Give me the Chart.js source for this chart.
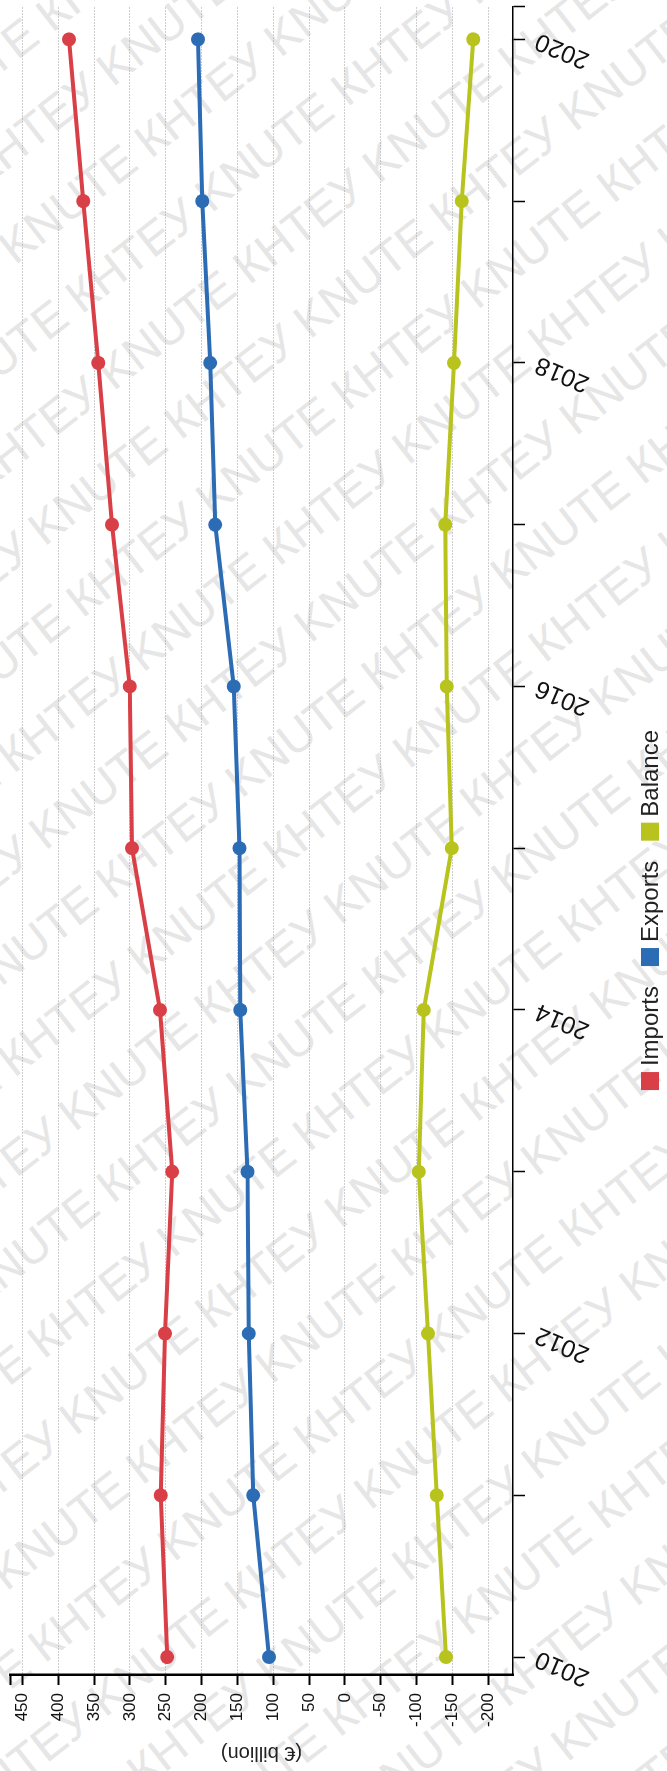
<!DOCTYPE html>
<html>
<head>
<meta charset="utf-8">
<title>Imports, exports and trade balance, 2010–2020</title>
<script src="https://cdn.jsdelivr.net/npm/chart.js@4.4.1/dist/chart.umd.min.js"></script>
<style>
  html, body { margin: 0; padding: 0; background: #fff; width: 667px; height: 1771px; overflow: hidden; }
  #stage { position: absolute; left: 0; top: 0; width: 667px; height: 1771px; overflow: hidden; background: #fff; }
  #mark {
    position: absolute; left: -967px; top: -415px; width: 2600px; height: 2600px;
    transform: rotate(-38deg); transform-origin: 50% 50%;
    font: 47px "Liberation Sans", Arial, sans-serif; color: #e6e6e6;
    line-height: 80px; white-space: nowrap; user-select: none; z-index: 0;
  }
  /* the chart is laid out landscape, then turned a quarter turn counter-clockwise */
  #frame {
    position: absolute; left: 0; top: 0; width: 1771px; height: 667px;
    transform-origin: 0 0; transform: translate(0, 1771px) rotate(-90deg); z-index: 1;
  }
  #chart { display: block; }
</style>
</head>
<body>
<div id="stage">
  <div id="mark"></div>
  <div id="frame"><canvas id="chart" width="1771" height="667"></canvas></div>
</div>
<script>
// Values in € billion
const years = [2010, 2011, 2012, 2013, 2014, 2015, 2016, 2017, 2018, 2019, 2020];
const imports = [248, 257, 251, 241, 258, 297, 300, 325, 344, 365, 385];
const exportsEur = [106, 128, 134, 136, 146, 147, 155, 181, 188, 199, 205];
const balance = [-141, -128, -116, -103, -110, -149, -142, -140, -152, -163, -179];

const seriesNames = ['Imports', 'Exports', 'Balance'];
const seriesColors = ['#d93f46', '#2b6cb5', '#b8c31d'];
const yearTickLabels = ['2010', '2012', '2014', '2016', '2018', '2020'];
const valueTicks = [450, 400, 350, 300, 250, 200, 150, 100, 50, 0, -50, -100, -150, -200];
const axisTitle = '(€ billion)';
const watermarkText = 'КНТЕУ KNUTE ';

// background watermark
(function () {
  const mark = document.getElementById('mark');
  for (let r = 0; r < 36; r++) {
    const row = document.createElement('div');
    row.style.marginLeft = (r % 2 ? -80 : -230) + 'px';
    row.textContent = watermarkText.repeat(12);
    mark.appendChild(row);
  }
})();

const FONT = '"Liberation Sans", Arial, Helvetica, sans-serif';
Chart.defaults.font.family = FONT;
Chart.defaults.color = '#111';

const X_MIN = 2009.889, X_MAX = 2020.2;
const Y_MIN = -234.45, Y_MAX = 467.2;

const allSeries = [imports, exportsEur, balance];
const datasets = allSeries.map((vals, i) => ({
  label: seriesNames[i],
  data: years.map((yr, j) => ({ x: yr, y: vals[j] })),
  borderColor: seriesColors[i],
  backgroundColor: seriesColors[i],
  borderWidth: 4,
  pointRadius: 7,
  pointHoverRadius: 7,
  pointBorderWidth: 0,
  tension: 0,
  fill: false
}));

// legend: coloured square + name, centred row below the axis
const swatchLegend = {
  id: 'swatchLegend',
  afterDraw(chart, args, opts) {
    const ctx = chart.ctx;
    ctx.save();
    ctx.font = opts.fontSize + 'px ' + FONT;
    ctx.textBaseline = 'middle';
    const items = chart.data.datasets.map(d => ({
      text: d.label, color: d.borderColor, w: ctx.measureText(d.label).width
    }));
    const total = items.reduce((s, it) => s + opts.box + opts.gap + it.w, 0) + opts.spacing * (items.length - 1);
    let x = opts.centerX - total / 2;
    items.forEach(it => {
      ctx.fillStyle = it.color;
      ctx.fillRect(x, opts.y - opts.box / 2, opts.box, opts.box);
      ctx.fillStyle = opts.color;
      ctx.fillText(it.text, x + opts.box + opts.gap, opts.y + 1);
      x += opts.box + opts.gap + it.w + opts.spacing;
    });
    ctx.restore();
  }
};

new Chart(document.getElementById('chart'), {
  type: 'line',
  data: { datasets },
  plugins: [swatchLegend],
  options: {
    responsive: false,
    animation: false,
    events: [],
    layout: { padding: { left: 0, right: 7, top: 10, bottom: 54 } },
    plugins: {
      legend: { display: false },
      tooltip: { enabled: false },
      swatchLegend: { centerX: 861, y: 650, box: 18, gap: 6, spacing: 20, fontSize: 24, color: '#222' }
    },
    scales: {
      x: {
        type: 'linear',
        min: X_MIN,
        max: X_MAX,
        afterBuildTicks: s => { s.ticks = years.map(v => ({ value: v })).concat([{ value: X_MAX }]); },
        afterFit: s => { s.height = 100; s.paddingLeft = 0; s.paddingRight = 0; },
        ticks: {
          autoSkip: false,
          minRotation: 67,
          maxRotation: 67,
          padding: 6,
          font: { size: 25 },
          color: '#111',
          callback: v => (yearTickLabels.includes(String(v)) ? String(v) : '')
        },
        grid: {
          drawOnChartArea: false,
          tickLength: 12,
          tickWidth: 1.5,
          tickColor: '#000'
        },
        border: { display: true, color: '#000', width: 1.5 }
      },
      y: {
        type: 'linear',
        min: Y_MIN,
        max: Y_MAX,
        afterBuildTicks: s => { s.ticks = valueTicks.map(v => ({ value: v })).concat([{ value: Y_MAX }]); },
        afterFit: s => { s.width = 96; s.paddingTop = 0; s.paddingBottom = 0; },
        ticks: {
          autoSkip: false,
          padding: 8,
          font: { size: 17 },
          color: '#111',
          callback: v => (valueTicks.includes(v) ? String(v) : '')
        },
        grid: {
          color: c => (c.tick && valueTicks.includes(c.tick.value) ? '#9c9c9c' : 'rgba(0,0,0,0)'),
          lineWidth: 1,
          tickLength: 10,
          tickWidth: 2,
          tickColor: '#000'
        },
        border: { display: true, color: '#000', width: 2.5, dash: [1, 2] },
        title: {
          display: true,
          text: axisTitle,
          font: { size: 20 },
          color: '#222',
          padding: { top: 6, bottom: 0 }
        }
      }
    }
  }
});
</script>
</body>
</html>
